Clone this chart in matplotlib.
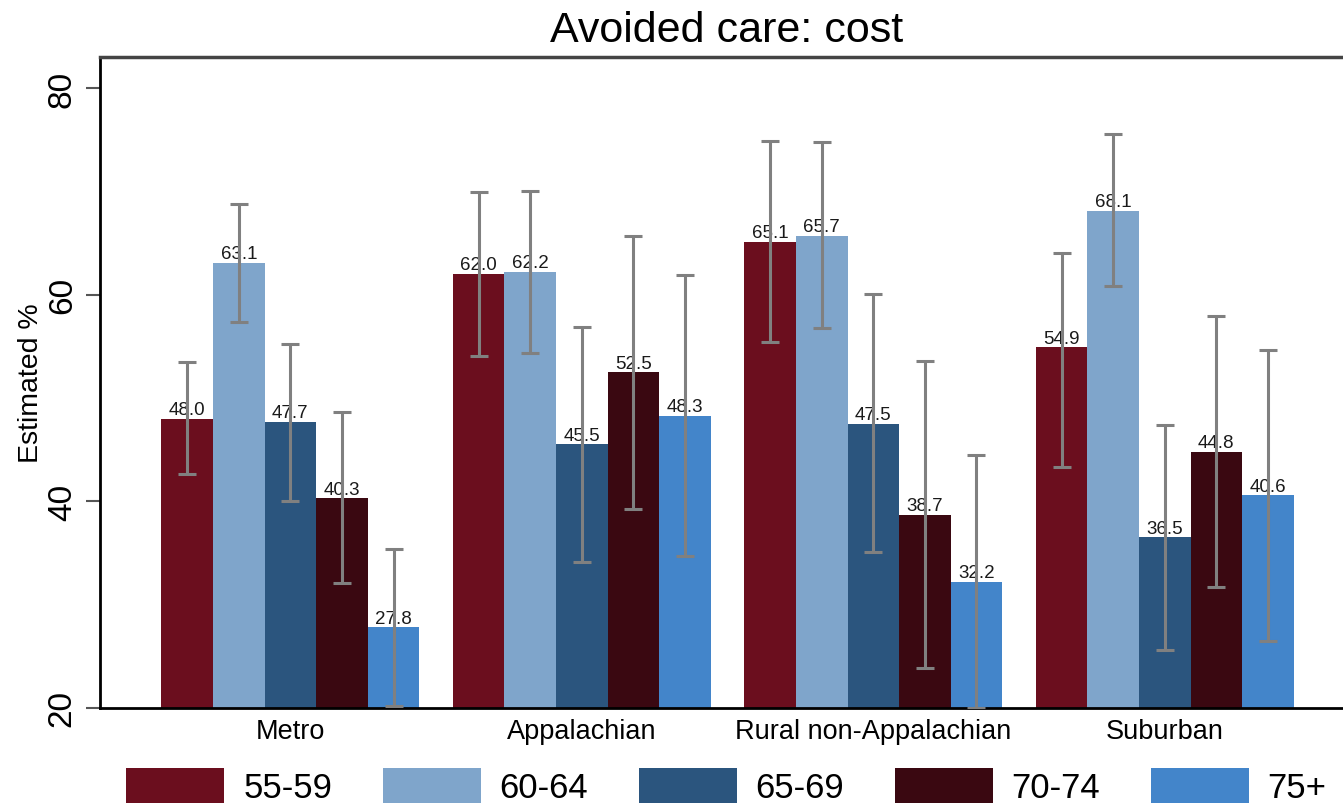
"""
Avoided care due to cost, by region and age group (bar chart with CIs).
"""

import matplotlib.pyplot as plt
import numpy as np

# Data
regions = ["Metro", "Appalachian", "Rural non-Appalachian", "Suburban"]
age_groups = ["55-59", "60-64", "65-69", "70-74", "75+"]

# estimates, one list per age group (values across regions)
est_55_59 = [48.0, 62.0, 65.1, 54.9]
est_60_64 = [63.1, 62.2, 65.7, 68.1]
est_65_69 = [47.7, 45.5, 47.5, 36.5]
est_70_74 = [40.3, 52.5, 38.7, 44.8]
est_75_up = [27.8, 48.3, 32.2, 40.6]

# confidence interval bounds
lo_55_59 = [42.6, 54.1, 55.4, 43.3]
hi_55_59 = [53.5, 69.9, 74.9, 64.0]
lo_60_64 = [57.4, 54.4, 56.8, 60.8]
hi_60_64 = [68.8, 70.0, 74.8, 75.5]
lo_65_69 = [40.0, 34.1, 35.1, 25.6]
hi_65_69 = [55.2, 56.9, 60.1, 47.4]
lo_70_74 = [32.1, 39.3, 23.9, 31.7]
hi_70_74 = [48.6, 65.7, 53.6, 57.9]
lo_75_up = [20.2, 34.7, 20.0, 26.5]
hi_75_up = [35.4, 61.9, 44.5, 54.6]

estimates = [est_55_59, est_60_64, est_65_69, est_70_74, est_75_up]
lows = [lo_55_59, lo_60_64, lo_65_69, lo_70_74, lo_75_up]
highs = [hi_55_59, hi_60_64, hi_65_69, hi_70_74, hi_75_up]

colors = ["#6B0E1E", "#7FA5CB", "#2B557E", "#3A0811", "#4385CA"]

plt.rcParams['font.family'] = ['Liberation Sans', 'DejaVu Sans']

fig = plt.figure(figsize=(13.43, 8.04), dpi=100, facecolor='white')
ax = fig.add_axes([0.0745, 0.1182, 0.9345, 0.8097])

x = np.arange(len(regions))
width = 0.177

for i, (vals, lo, hi, col, lab) in enumerate(zip(estimates, lows, highs, colors, age_groups)):
    pos = x + (i - 2) * width
    vals = np.array(vals)
    ax.bar(pos, vals - 20, bottom=20, width=width, color=col, label=lab,
           edgecolor='none', zorder=1)
    for p, v in zip(pos, vals):
        ax.text(p, v + 0.05, f'{v:.1f}', ha='center', va='bottom',
                fontsize=13.5, color='#1a1a1a', zorder=2)
    yerr = [vals - np.array(lo), np.array(hi) - vals]
    ax.errorbar(pos, vals, yerr=yerr, fmt='none', ecolor='#808080',
                elinewidth=2.2, capsize=6.5, capthick=2.2, zorder=3)

ax.set_xlim(-0.653, 3.653)
ax.set_ylim(20, 83)
ax.set_xticks(x)
ax.set_xticklabels(regions, fontsize=19.5)
ax.tick_params(axis='x', length=0, pad=7)
ax.set_yticks([20, 40, 60, 80])
ax.set_yticklabels(['20', '40', '60', '80'], rotation=90, va='center', fontsize=24)
ax.tick_params(axis='y', length=10, width=1.5, color='#555555', pad=6)
ax.set_ylabel('Estimated %', fontsize=20.5, labelpad=2)

for side in ['left', 'bottom']:
    ax.spines[side].set_linewidth(2)
    ax.spines[side].set_color('black')
ax.spines['top'].set_linewidth(2.5)
ax.spines['top'].set_color('#444444')
ax.spines['right'].set_visible(False)

fig.text(0.541, 0.962, 'Avoided care: cost', ha='center', va='center', fontsize=31)

fig.legend(loc='center', bbox_to_anchor=(0.541, 0.021), ncol=5, frameon=False,
           fontsize=25, handlelength=2.82, handleheight=1.15, handletextpad=0.55,
           columnspacing=1.45, borderpad=0)

fig.savefig('out.png', dpi=100, facecolor='white')
